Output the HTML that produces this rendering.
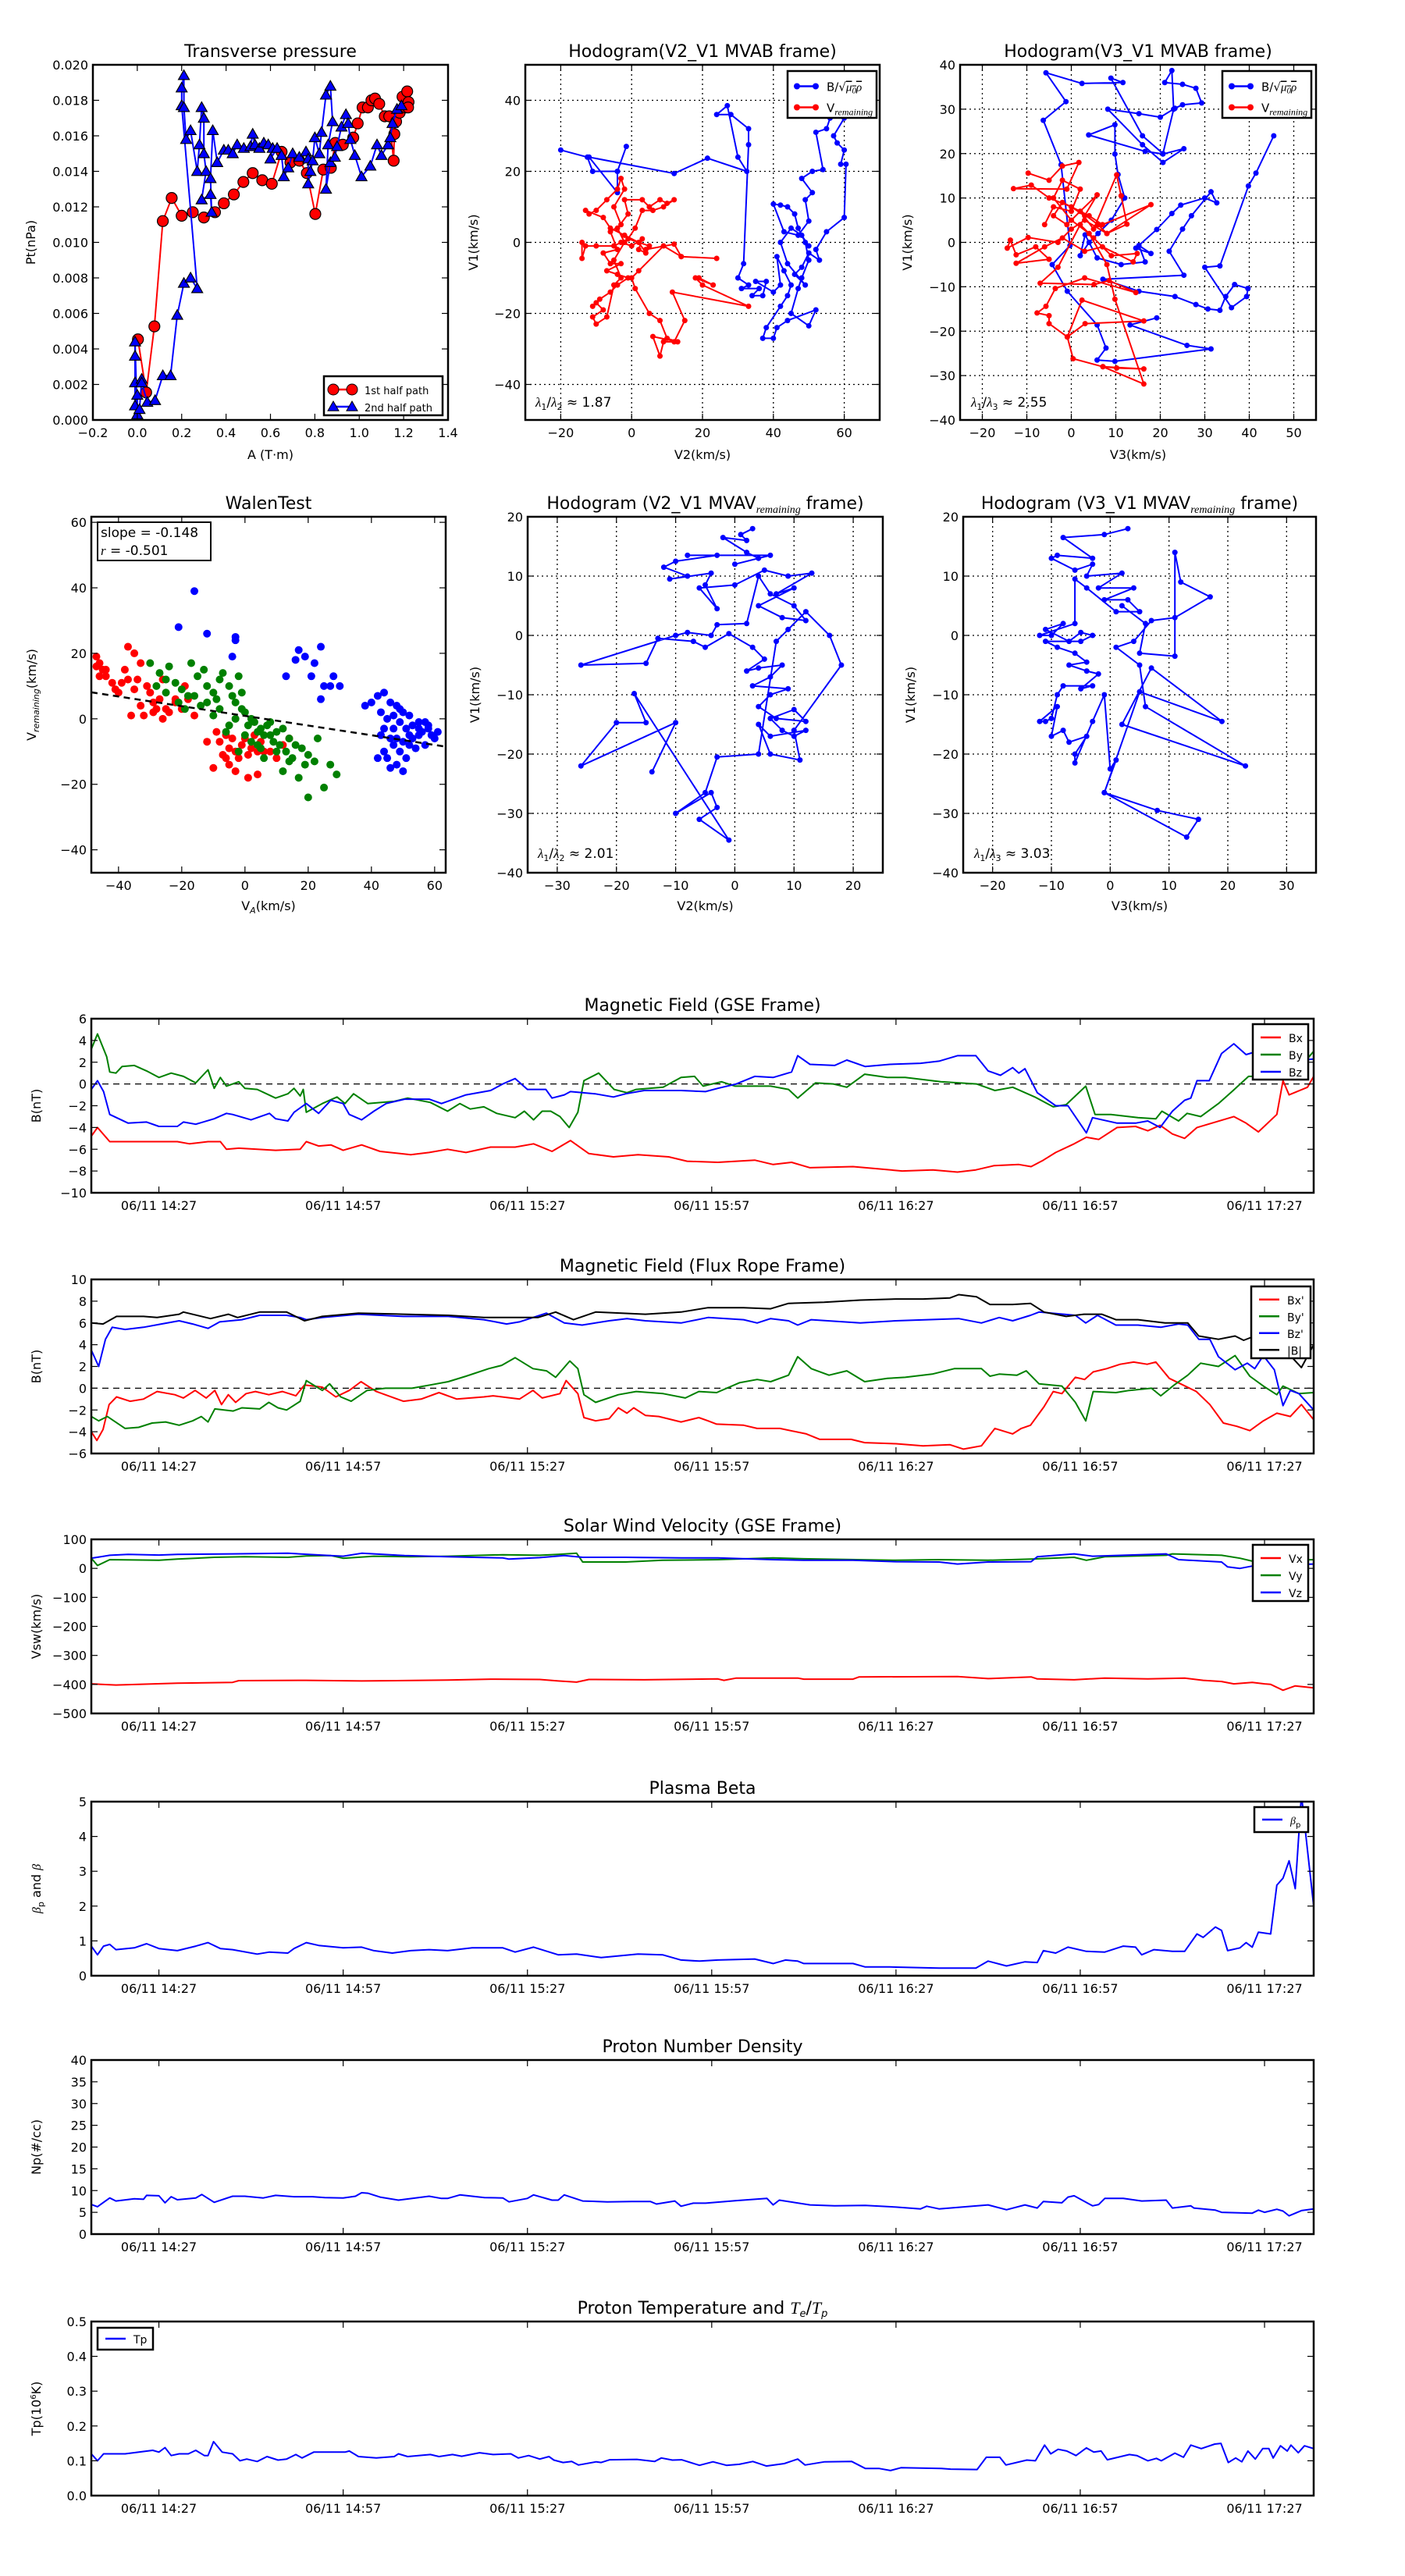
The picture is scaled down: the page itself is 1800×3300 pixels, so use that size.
<!DOCTYPE html>
<html><head><meta charset="utf-8"><style>
html,body{margin:0;padding:0;background:#fff;}
svg{display:block;font-family:"DejaVu Sans","Liberation Sans",sans-serif;}
</style></head><body>
<svg id="fig" xmlns="http://www.w3.org/2000/svg" width="1800" height="3300" viewBox="0 0 1800 3300">
<rect x="0" y="0" width="1800" height="3300" fill="#fff"/>
</svg>
<script>
// ---------- Transverse pressure ----------
const ptRedA=[0.003,0.04,0.077,0.115,0.155,0.2,0.25,0.3,0.35,0.39,0.435,0.478,0.52,0.563,0.606,0.65,0.69,0.73,0.764,0.802,0.838,0.872,0.892,0.926,0.973,0.993,1.015,1.039,1.055,1.071,1.09,1.115,1.135,1.155,1.158,1.166,1.182,1.195,1.209,1.216,1.222,1.22];
const ptRedP=[0.00454,0.00155,0.00527,0.0112,0.0125,0.0115,0.0117,0.0114,0.0117,0.0122,0.0127,0.0134,0.0139,0.0135,0.0133,0.0151,0.0145,0.0146,0.0139,0.0116,0.0141,0.0142,0.0156,0.0155,0.0159,0.0167,0.0176,0.0176,0.018,0.0181,0.0178,0.0171,0.0171,0.0146,0.0161,0.0168,0.0173,0.0182,0.0176,0.0185,0.0179,0.0176];
const ptBlueA=[0.0,-0.01,-0.01,-0.01,-0.01,0.0,0.0,0.01,0.02,0.02,0.045,0.08,0.115,0.15,0.18,0.21,0.24,0.27,0.2,0.2,0.21,0.21,0.22,0.24,0.27,0.28,0.29,0.30,0.30,0.31,0.29,0.33,0.335,0.33,0.34,0.36,0.39,0.41,0.43,0.45,0.48,0.51,0.52,0.53,0.55,0.57,0.59,0.61,0.60,0.63,0.65,0.66,0.68,0.70,0.73,0.76,0.77,0.77,0.78,0.79,0.80,0.82,0.83,0.85,0.87,0.88,0.86,0.85,0.87,0.89,0.90,0.92,0.94,0.95,0.96,0.98,1.01,1.05,1.08,1.10,1.13,1.14,1.15,1.17,1.19];
const ptBlueP=[0.0,0.0044,0.0036,0.0021,0.0008,0.0014,0.0003,0.0006,0.0023,0.0021,0.001,0.0011,0.0025,0.0025,0.0059,0.0077,0.008,0.0074,0.0177,0.0187,0.0194,0.0176,0.0158,0.0163,0.014,0.0155,0.0176,0.017,0.015,0.014,0.0124,0.0127,0.0117,0.0136,0.0163,0.0145,0.0152,0.0152,0.015,0.0155,0.0153,0.0154,0.0161,0.0155,0.0153,0.0156,0.0155,0.0153,0.0147,0.0153,0.0149,0.0137,0.0142,0.015,0.0148,0.0151,0.0147,0.0133,0.014,0.0146,0.0159,0.015,0.0162,0.0183,0.0188,0.0168,0.0155,0.013,0.0145,0.0148,0.0154,0.0165,0.0172,0.0167,0.0158,0.0149,0.0137,0.0143,0.0155,0.0149,0.0155,0.0159,0.0167,0.0175,0.0177];
// ---------- Hodogram V2_V1 MVAB ----------
const h1BlueX=[-20,-12.5,-11,-4,-1.5,-4,-4,-12,12,21.4,32.5,30,27,24,28,33,33,31.6,30,33,31,36,34,37,38,35,40,42,41,43,45,44,42,38,37,40,41,44,52,50,45,47,48,50,49,47,46,44,42,40,43,47,50,49,51,48,51,54,52,55,56,59,60,57,58,60,59,60.5,60,55,52,53,50,48,46,49,44,42,45,48,50];
const h1BlueY=[26,24,20,20,27,20,14,24,19.4,23.7,20,24,38.5,36,36,32,27.5,-6,-10,-12,-13,-13,-15,-15,-11,-11,-14,-12,-4,-8,-12,-15,-18,-24,-27,-27,-24,-22,-19,-23.5,-20,-13,-10,-5,0,4,8,10,10.5,10.8,3,2,6,12,14,18,20,20.5,31,32,35,37,35,30,28,26,22,22,7,3,-2,-5,-3,-7,-9,-12,-6,0,4,2,-1];
const h1RedX=[-14,-14,-13,-10,-5,-3,0,3,2,4,2,-2,-6,-8,-13,-12,-10,-7,-4,-3,-2,-5,-3,-6,-4,-8,-6,-3,-7,-4,-1,-4,-6,-9,-11,-10,-8,-11,-10,-7,-5,-3,-5,-2,-4,-1,-2,3,5,8,10,12,9,6,3,1,-1,5,4,12,14,24,14,9,2,0,1,5,8,10,13,6,8,9,12,15,11.5,33,20,18,23,19];
const h1RedY=[0,-4.5,-1,-1,-1,0,-1,1,-2,-3,0,2,4,7,9,8,9,12,15,18,15,10,5,3,-2,-3,-6,-6,-8,-9,-10,-12,-14,-16,-18,-17,-19,-21,-23,-21,-12,-10,-5,0,4,8,12,12,10,12,11,12,10,9,9,4,1,-1,-2,-0.5,-4,-4.5,-4,-1,-8,-10,-13,-20,-22,-27,-28,-26.5,-32,-28,-28,-22,-14,-18,-12,-10,-12,-10];
// ---------- Hodogram V3_V1 MVAB ----------
const h2BlueX=[19.2,13.2,26,31.4,9.8,5.8,7.8,5.8,-0.9,-4.3,-0.3,-2.3,-6.3,-1.2,-5.7,2.4,11.6,8.9,16,20.6,23,22.6,21,25,28,29.3,25,23.3,20,15.2,8.2,16,20.6,25.3,20.6,16.6,3.9,9.8,9.8,10.5,12,9,6,4,2,3.1,5.8,11.2,16.6,15.2,17.9,14.5,19.2,22.6,24.6,30,32.7,31.4,27,25,22,25.3,7.1,15.2,23.3,28,30.7,33.4,34.7,36.7,39.7,39.4,36,30,33.4,39.8,41.5,45.5];
const h2BlueY=[-17,-18.6,-23.2,-24,-26.8,-26.5,-23.8,-18.6,-11,-5,-0.7,17.5,27.5,31.7,38.2,35.8,36,37,24,20,30,38.7,36,35.6,34.7,31.4,31,30.2,28.2,29,30,22,18,21.1,19.9,20.5,24.2,26.5,19.9,15.3,10,5,2,0,-3,1.7,-3.5,-5,-4.4,-0.7,-2.5,-1.3,2.9,6.5,8.4,10,8.9,11.4,6,3,-2,-7.4,-8.3,-11,-12.2,-14,-15,-15.3,-12.2,-9.5,-10.4,-12.2,-14.7,-5.6,-5.3,12.7,15.6,24];
const h2RedX=[-9.7,-5,-2,1.7,-1,-13,-9,-5,0,3,5.8,2,6,8,17.9,7,4,-2,-4,-1,2,5,10.2,11.2,12.5,8,3,0,-3,-9.7,-14.4,-13.7,-12.4,-8,-5,-12.4,-6,-2,3,7,13.9,14.8,9,5,2,-3,-7,5.1,8.5,14.5,3,-3.6,-5.7,-7.7,-5,-5,-0.9,3.1,16.3,2.4,-0.9,0.4,7.1,16.3,10.2,7.1,16.3,9.8,8,4,0,-4,-2,2,0,-4,-6];
const h2RedY=[15.6,14,17.2,18,12,12.1,12.9,10,8,6,10.7,7,4,2,8.5,4,6,9,6,4,7,3,15.2,10.5,4.1,2,5,3,0,1.1,-1.3,0.5,-2.8,-1,-3.8,-4.7,-1,1,-2,-1,-4.4,-2.5,-3,1,4,-5.6,-9.2,-9.5,-8.6,-11.3,-8,-10.4,-14.4,-15.9,-16.5,-18.3,-21.3,-18.3,-17.7,-13,-21.3,-26.2,-28,-28.5,-28.3,-28,-31.9,-12.8,-5,2,5,10,14,12,7,8,4];
// ---------- Walen test ----------
const wRedX=[-47,-46,-45,-44,-42,-40,-38,-37,-35,-33,-34,-31,-30,-29,-28,-27,-26,-25,-24,-22,-20,-19,-18,-16,-33,-36,-32,-29,-26,-22,-47,-46,-44,-41,-39,-37,-35,-8,-6,-5,-4,-3,-2,-1,0,1,2,4,5,6,3,-7,-10,-6,-5,-3,1,4,8,10,12,14,-12,-9];
const wRedY=[19,17,15,13,11,8,15,22,20,17,12,10,8,5,3,6,12,3,2,5,3,10,6,1,4,1,1,2,0,6,16,13,15,9,11,12,9,-7,-5,-9,-6,-10,-12,-8,-6,-11,-9,-10,-7,-10,-5,-11,-15,-12,-14,-16,-18,-17,-10,-12,-8,-6,-7,-4];
const wGreenX=[-30,-27,-25,-24,-22,-20,-18,-17,-15,-13,-12,-10,-8,-7,-5,-4,-3,-2,-1,0,1,2,3,4,5,6,7,8,9,10,11,12,13,14,15,16,18,19,20,22,23,25,27,29,20,17,12,6,4,-2,-5,-8,-10,-12,-14,-16,-19,-21,-25,-28,-6,-3,0,2,5,8,10,14,-1,-9];
const wGreenY=[17,14,12,16,11,9,7,17,13,15,10,8,12,14,10,7,5,13,3,2,-2,0,-1,-4,-3,-5,-2,-1,-7,-4,-8,-3,-10,-6,-12,-8,-9,-14,-11,-13,-6,-21,-14,-17,-24,-18,-16,-12,-8,-10,-2,3,1,5,4,7,3,5,8,10,-4,0,-5,-7,-9,-5,-10,-13,8,6];
const wBlueX=[-16,-21,-12,-3,-3,-4,17,16,19,22,24,21,25,13,27,30,28,24,38,40,42,44,46,48,50,52,55,58,61,45,47,43,44,45,47,49,51,53,55,57,59,46,50,42,48,43,49,51,53,55,57,60,44,46,48,50,52,54,56,58,47,49,52];
const wBlueY=[39,28,26,25,24,19,21,18,19,17,22,13,10,13,10,10,13,6,4,5,7,8,5,4,2,1,-1,-3,-4,0,-3,-5,-10,-12,-8,-10,-12,-6,-5,-8,-5,-15,-16,-12,-14,2,-1,-3,-2,-3,-1,-6,-3,-6,-6,-7,-8,-9,-4,-2,1,3,-5];
const wSlope=-0.148, wIntercept=0.9;
// ---------- Hodogram V2_V1 MVAV ----------
const h3X=[3,1,2,-2,2,4,0,6,-8,-3,-10,-12,-8,-11,-4,-5,-3,-6,0,5,9,13,7,10,4,8,12,10,6,4,2,-3,-4,-8,-10,-26,-15,-13,-7,-5,-1,3,5,2,4,8,6,3,9,6,4,7,12,10,6,8,10,12,6,4,6,11,10,18,16,12,9,7,4,-3,-5,-10,-4,-3,-6,-1,-17,-15,-20,-26,-10,-14];
const h3Y=[18,17,16,16.5,14,13,12,13.5,13.5,13.5,12.5,11.5,10,9.5,10.5,8.5,4.5,8,8.5,11,10,10.5,7,8,5,3,2.5,5,7,10,2,1.8,0,0.5,0,-5,-4.7,-0.5,-1,-2,0.3,-2,-4,-6,-5.5,-5,-7,-8.5,-9,-10,-12,-14,-14.5,-12.5,-14,-16,-17,-16,-17,-15,-20,-21,-16,-5,0,4,1,-1,-20,-20.5,-26.5,-30,-26.5,-29,-31,-34.5,-9.8,-14.7,-14.7,-22,-14.7,-23];
// ---------- Hodogram V3_V1 MVAV ----------
const h4X=[3,-1,-8,-3,-9,-10,-6,-3,-4,2,-2,4,-1,3,5,1,-4,-6,-6,-12,-10,-8,-11,-7,-5,-3,-5,-11,-9,-6,-4,-7,-4,-2,-5,-3,-8,-9,-10,-11,-12,-9,-10,-8,-7,-4,-6,-6,-3,-1,0,1,-1,8,15,13,-1,5,19,7,2,23,6,5,1,4,7,11,17,12,11,11,5,6,2];
const h4Y=[18,17,-8+24.5,13,13.5,13,11,12,10,10.5,8,8,6,6,4,4,8,9.5,2,0,0,2,1,-1,0.5,0,-1,-1,-2,-3,-4.5,-5,-6,-6.5,-9,-8.5,-8.5,-10,-14,-14.5,-14.5,-12,-17,-16,-18,-17,-20,-21.5,-14.5,-10,-22.5,-21,-26.5,-29.5,-31,-34,-26.5,-9.5,-14.5,-5.5,-15,-22,-12,-5,-2,-1,2.5,3,6.5,9,14,-3.5,-3,2,5];
// ---------- Time series (minutes after 14:16) ----------
const tickTimes=[11,41,71,101,131,161,191];
const tickLabels=['06/11 14:27','06/11 14:57','06/11 15:27','06/11 15:57','06/11 16:27','06/11 16:57','06/11 17:27'];
const bxT=[0,1,3,10,14,16,19,21,22,24,27,30,34,35,37,39,41,44,47,52,55,58,61,65,69,72,75,78,81,85,89,94,97,102,108,111,114,117,124,128,132,137,141,144,147,151,153,155,157,160,162,164,167,170,172,174,176,178,180,183,186,188,190,193,194,195,198,199];
const bxV=[-4.8,-4.0,-5.3,-5.3,-5.3,-5.5,-5.3,-5.3,-6.0,-5.9,-6.0,-6.1,-6.0,-5.3,-5.7,-5.6,-6.1,-5.6,-6.2,-6.5,-6.3,-6.0,-6.3,-5.8,-5.8,-5.5,-6.2,-5.2,-6.4,-6.7,-6.5,-6.7,-7.1,-7.2,-7.0,-7.4,-7.2,-7.7,-7.6,-7.8,-8.0,-7.9,-8.1,-7.9,-7.5,-7.4,-7.6,-7.0,-6.3,-5.5,-4.9,-5.1,-4.0,-3.9,-4.3,-3.8,-4.6,-5.0,-4.0,-3.5,-3.0,-3.6,-4.4,-2.8,0.3,-1.0,-0.3,0.7];
const byT=[0,1,2.5,3,4,5,7,9,11,13,15,17,19,20,21,22,24,25,27,30,32,33,34,34.5,35,37.6,40,41.3,42.7,45,49.3,51.5,55.2,58,60,61.7,63.9,66,69,70.5,72,73.4,74.8,76.3,77.8,79.2,80.2,82.6,85.1,87.2,88.7,93.1,96,98.2,99.6,102.6,104.8,110.6,113.5,115,117.9,120.8,123,125.9,129.6,132.5,138.3,144.1,147.1,150,153.6,156.6,158.7,161.9,163.4,166,170.4,173.3,174.3,177,178.4,180.6,183.5,185.7,188.4,190.8,195.2,199];
const byV=[3.2,4.6,2.5,1.1,1.0,1.6,1.7,1.2,0.6,1.0,0.7,0.1,1.3,-0.4,0.6,-0.2,0.2,-0.4,-0.5,-1.3,-0.9,-0.4,-1.1,-0.5,-2.6,-1.8,-1.2,-1.8,-0.9,-1.8,-1.6,-1.3,-1.7,-2.5,-1.8,-2.3,-2.1,-2.7,-3.1,-2.5,-3.3,-2.5,-2.5,-3.0,-4.0,-2.6,0.3,1.0,-0.5,-0.8,-0.5,-0.3,0.6,0.7,-0.2,0.2,-0.2,-0.2,-0.5,-1.3,0.1,0.0,-0.3,0.9,0.6,0.6,0.2,0.0,-0.6,-0.3,-1.2,-2.1,-1.9,-0.2,-2.8,-2.8,-3.1,-3.2,-2.5,-3.4,-2.7,-3.0,-1.8,-0.7,0.7,0.7,0.5,3.0];
const bzT=[0,1,2,3,6,9,11,14,15,17,20,22,23,26,29,30,32,33,35,37,39,41,42,44,46,48,51,55,57,61,65,67,69,71,74,75,77,78,82,85,87,90,96,100,102,105,108,111,114,115,117,121,123,126,130,135,138,141,144,146,148,150,151,152,154,157,159,162,163,167,170,172,174,176,178,179,180,182,184,186,188,191,194,199];
const bzV=[-0.5,0.3,-0.7,-2.8,-3.6,-3.5,-3.9,-3.9,-3.5,-3.7,-3.2,-2.7,-2.8,-3.3,-2.7,-3.2,-3.4,-2.6,-1.8,-2.7,-1.5,-1.8,-2.8,-3.3,-2.5,-1.8,-1.4,-1.4,-1.8,-1.0,-0.6,0.0,0.5,-0.5,-0.5,-1.3,-1.0,-0.7,-0.9,-1.2,-0.9,-0.6,-0.6,-0.7,-0.4,0.0,0.7,0.6,1.1,2.6,1.8,1.7,2.2,1.6,1.8,1.9,2.1,2.6,2.6,1.2,0.8,1.5,1.0,1.4,-0.8,-2.0,-2.0,-4.5,-3.1,-3.6,-3.6,-3.4,-4.0,-2.5,-1.5,-1.3,0.3,0.3,2.8,3.7,2.7,3.2,2.0,2.3];
const frxT=[0,0.9,1.9,2.9,4.1,6.3,8.5,10.7,13.6,15,16.9,18.7,20.1,21.2,22.3,23.5,25.2,26.7,28.9,31.1,33.3,34.7,37.6,39.8,42,43.9,46.4,50.8,53.7,56.6,59.5,63.9,65.4,69.7,71.9,73.4,76.3,77.3,79.2,80.2,82.1,84.3,85.8,87.2,88.3,90.2,92.4,96,98.9,100.4,101.8,106.2,108.4,112.1,116.4,118.6,123.7,125.9,131,135.4,139.8,142,144.9,147.1,150,151.4,152.9,155.1,156.6,158,160.2,161.7,163.1,165.3,167.5,169.7,171.9,173.3,175.5,177.7,179.9,182.1,184.3,186.5,188.6,190.8,193,195.2,197,199];
const frxV=[-4.0,-4.8,-3.8,-1.5,-0.8,-1.2,-1.0,-0.3,-0.6,-0.9,-0.2,-0.9,-0.2,-1.5,-0.6,-1.3,-0.5,-0.3,-0.6,-0.3,-0.7,0.3,0.1,-0.8,-0.2,0.6,-0.3,-1.2,-1.0,-0.4,-1.0,-0.8,-0.7,-1.0,-0.2,-0.9,-0.5,0.7,-0.5,-2.7,-3.0,-2.8,-1.8,-2.3,-1.8,-2.5,-2.6,-3.1,-2.7,-3.0,-3.3,-3.4,-3.7,-3.7,-4.2,-4.7,-4.7,-5.0,-5.1,-5.3,-5.2,-5.6,-5.3,-3.7,-4.2,-3.7,-3.4,-1.7,-0.3,-0.5,1.0,0.8,1.5,1.8,2.2,2.4,2.2,2.4,0.9,0.3,-0.3,-1.5,-3.2,-3.5,-3.9,-3.0,-2.3,-2.6,-1.5,-2.9];
const fryT=[0,1.2,2.6,5.5,7.7,9.9,12.1,14.3,16.5,17.9,19,20.1,23.1,24.5,27.4,28.9,30.4,31.8,34,35,37.6,38.8,40.6,42.3,44.9,47.9,52.2,55.2,58.1,61,64.7,66.8,69,71.9,74.1,75.6,77.9,79.2,80.2,82.1,85.8,88.7,93.1,96.7,98.9,101.8,105.5,108.4,110.6,113.5,115,117.2,120.1,123,125.9,129.6,132.5,136.9,140.5,144.9,146.3,147.8,150.7,152.2,154.3,158,160.2,161.9,163.1,166.8,169,172.6,174.1,176.3,178.5,180.6,183.5,186.2,188.6,190.8,193,194,196.6,199];
const fryV=[-2.6,-3.0,-2.6,-3.7,-3.6,-3.2,-3.1,-3.4,-3.0,-2.6,-3.1,-1.9,-2.1,-1.8,-1.9,-1.3,-1.8,-2.0,-1.2,0.7,-0.2,0.4,-0.8,-1.2,-0.2,0.0,0.0,0.3,0.6,1.1,1.8,2.1,2.8,1.8,1.6,1.0,2.5,1.8,-0.6,-1.3,-0.6,-0.3,-0.5,-0.9,-0.3,-0.4,0.5,0.8,0.6,1.2,2.9,1.8,1.2,1.6,0.6,0.9,1.0,1.3,1.8,1.8,1.1,1.3,1.2,1.6,0.4,0.2,-1.3,-3.0,-0.3,-0.4,-0.2,0.0,-0.7,0.3,1.2,2.3,2.0,3.0,1.1,0.2,-0.6,0.2,-0.5,-0.4];
const frzT=[0,1.2,2.3,3.4,5.5,8.5,11.4,14.3,16.5,19,20.9,24.5,27.4,31.8,34,35,37.6,43.5,50.8,58.1,63.9,67.6,69.7,74.1,77,79.9,84.3,87.2,90.2,96,100.4,106.2,108.4,110.6,113.5,115,117.2,125.2,131,141.2,144.9,147.8,150,152.9,154.3,160.2,161.9,163.8,166.8,170.4,174.1,177,178.5,180.3,182.1,183.5,186.2,188.2,189.4,190.8,192.6,194,195.2,196.6,199];
const frzV=[3.5,2.0,4.5,5.6,5.4,5.6,5.9,6.2,5.9,5.5,6.1,6.3,6.7,6.7,6.5,6.3,6.5,6.8,6.6,6.6,6.3,5.9,6.1,6.9,6.0,5.8,6.2,6.4,6.2,6.0,6.5,6.3,6.0,6.4,6.2,5.8,6.3,6.0,6.2,6.4,6.0,6.5,6.2,6.7,7.0,6.7,6.0,6.7,5.8,5.8,5.6,5.9,5.8,4.5,4.5,2.9,1.7,2.3,1.8,3.0,1.7,-1.6,-0.2,-0.5,-2.0];
const frbT=[0,1.9,4.1,8.5,10.7,14.3,15,19.4,22.3,23.8,27.4,31.8,34.7,37.6,43.5,50.8,58.1,63.9,72.7,75.6,78.5,82.1,90.2,96,100.4,106.2,110.6,113.5,119.3,125.2,131,135.4,139.8,141.2,144.1,146.3,150,152.9,155.1,158.7,161.6,164.5,166.8,170.4,174.8,178.5,180.3,183.5,186.2,187.6,189.4,193.8,195.2,197,199];
const frbV=[6.0,5.9,6.6,6.6,6.5,6.8,7.0,6.4,6.8,6.5,7.0,7.0,6.2,6.6,6.9,6.8,6.7,6.5,6.5,7.0,6.3,7.0,6.8,7.0,7.4,7.4,7.3,7.8,7.9,8.1,8.2,8.2,8.3,8.6,8.4,7.7,7.7,7.8,7.0,6.6,6.8,6.8,6.3,6.3,6.0,6.0,4.8,4.5,4.8,4.4,4.8,3.2,3.0,1.9,4.0];
const vxT=[0,4,14,23,24,35,44,58,65,73,76,79,81,90,102,103,105,115,116,124,125,141,146,153,154,160,165,172,178,181,184,186,189,191,192,194,196,199];
const vxV=[-398,-402,-396,-393,-387,-386,-388,-385,-382,-383,-388,-392,-383,-384,-381,-386,-378,-378,-382,-382,-374,-373,-380,-374,-381,-384,-378,-381,-378,-386,-390,-398,-393,-398,-400,-420,-405,-412];
const vyT=[0,1,3,11,14,20,25,32,35,39,41,46,52,58,67,73,76,79,80,87,93,102,111,116,131,138,146,153,160,162,165,175,176,184,187,189,199];
const vyV=[35,10,30,28,32,38,40,38,43,44,35,42,40,42,47,45,48,52,22,22,28,30,36,33,28,30,28,32,38,28,40,45,50,45,35,25,30];
const vzT=[0,3,6,11,14,23,32,38,41,44,51,58,67,68,73,77,80,87,96,102,111,116,124,131,138,141,146,153,154,160,163,175,177,184,185,187,189,191,199];
const vzV=[35,45,48,46,48,50,52,45,42,52,44,40,36,32,37,44,38,38,36,36,30,28,28,23,22,15,22,23,40,50,42,50,30,22,5,0,8,10,15];
const betaT=[0,1,2,3,4,7,9,11,14,17,19,21,23,27,29,32,33,35,37,41,44,46,49,52,55,58,62,67,69,72,76,79,83,89,93,96,99,102,108,111,113,115,116,124,126,130,138,144,146,149,152,154,155,157,159,162,165,168,170,171,173,176,178,180,181,183,184,185,187,188,189,190,192,193,194,195,196,197,198,199];
const betaV=[0.85,0.6,0.85,0.9,0.75,0.8,0.92,0.78,0.72,0.85,0.95,0.78,0.75,0.62,0.68,0.65,0.78,0.95,0.87,0.8,0.82,0.72,0.65,0.72,0.75,0.72,0.8,0.8,0.68,0.82,0.6,0.62,0.52,0.62,0.6,0.45,0.42,0.45,0.48,0.35,0.45,0.42,0.35,0.35,0.25,0.25,0.22,0.22,0.42,0.28,0.4,0.38,0.72,0.65,0.82,0.7,0.68,0.85,0.82,0.6,0.75,0.7,0.7,1.2,1.1,1.4,1.3,0.72,0.8,0.95,0.82,1.25,1.2,2.6,2.8,3.3,2.5,5.2,3.6,2.0];
const npT=[0,1,3,4,7,8.5,9,11,12,13,14,17,18,20,23,25,28,30,33,36,38,41,43,44,45,47,50,55,57,58,60,64,67,68,71,72,75,76,77,80,84,88,91,92,95,96,98,100,105,110,111,112,117,121,126,131,135,136,138,146,149,152,154,155,158,159,160,163,164,165,168,171,175,176,179,179.5,183,184,189,190,191,193,194,195,197,199];
const npV=[6.8,6.3,8.3,7.6,8.1,8.0,8.9,8.8,7.2,8.6,7.9,8.3,9.1,7.3,8.7,8.7,8.3,8.9,8.6,8.6,8.4,8.3,8.7,9.5,9.4,8.5,7.8,8.7,8.2,8.2,9.0,8.4,8.3,7.4,8.2,9.0,7.8,7.8,9.0,7.6,7.4,7.5,7.5,6.9,7.6,6.4,7.1,7.1,7.7,8.2,6.7,7.8,6.7,6.5,6.6,6.2,5.8,6.4,5.8,6.7,5.6,6.7,6.0,7.5,7.2,8.5,8.8,6.5,6.8,8.2,8.2,7.6,7.8,6.0,6.5,6.0,5.5,5.0,4.8,5.5,5.0,5.7,5.3,4.2,5.4,5.8];
const tpT=[0,1,2,5.5,10,11,12,13,14.3,15.8,17,18.4,19,19.9,21.3,23,24.2,25.3,27,28.6,30.4,31.8,33.3,34.3,36.2,41.3,42,43.5,46.4,49.3,50,51.5,55.2,56.6,58.8,60.3,63.2,65.4,68.3,69.5,71.2,73,74.5,75.3,76.8,78.2,79.3,82.2,83,84.4,88.8,91.7,92.8,94.6,96.1,99,101.2,103.4,105.5,107.7,109.9,112.8,115,116.2,119.4,123.8,126,128.2,130.1,131.8,138.4,139.9,144.2,145.7,147.9,148.9,152.3,153.7,155.2,156.2,157.4,158.8,160.3,162,163.2,164.4,165.4,169,170.2,172,173.4,174.2,176.4,177.8,179,180.7,182.9,183.9,185.1,186.3,187.3,188.3,189.5,190.7,191.7,192.4,193.6,194.7,195.3,196.5,197.5,199];
const tpV=[.12,.10,.12,.12,.13,.125,.138,.115,.12,.12,.13,.115,.115,.155,.125,.12,.10,.105,.098,.112,.102,.105,.118,.108,.125,.125,.128,.112,.108,.112,.12,.112,.118,.112,.118,.113,.123,.118,.12,.108,.115,.105,.112,.102,.095,.098,.088,.097,.095,.103,.104,.098,.108,.102,.103,.087,.097,.087,.09,.098,.085,.092,.105,.088,.097,.098,.078,.078,.072,.08,.078,.076,.075,.11,.11,.088,.102,.1,.145,.12,.133,.128,.115,.137,.125,.128,.103,.118,.115,.1,.107,.1,.122,.11,.145,.135,.148,.15,.095,.108,.097,.128,.105,.135,.135,.108,.143,.128,.145,.123,.143,.135];

// ---------- drawing ----------
const NS='http://www.w3.org/2000/svg';
const svg=document.getElementById('fig');
let clipN=0;
function mk(tag,parent){const e=document.createElementNS(NS,tag);parent.appendChild(e);return e;}
function set(e,o){for(const k in o)e.setAttribute(k,o[k]);return e;}
function fmtMinus(s){return String(s).replace('-','\u2212');}
function makePanel(name,x0,y0,w,h,xmin,xmax,ymin,ymax){
  const g=mk('g',svg);
  
  
  const id='clip'+(clipN++);
  const cp=set(mk('clipPath',g),{id:id});
  set(mk('rect',cp),{x:x0,y:y0,width:w,height:h});
  const P={g:g,x0:x0,y0:y0,w:w,h:h,
    sx:v=>x0+(v-xmin)/(xmax-xmin)*w,
    sy:v=>y0+h-(v-ymin)/(ymax-ymin)*h};
  P.plot=set(mk('g',g),{'clip-path':'url(#'+id+')'});
  
  
  return P;
}
function gridLines(P,xt,yt){
  for(const v of xt){const l=set(mk('line',P.plot),{x1:P.sx(v),x2:P.sx(v),y1:P.y0,y2:P.y0+P.h,stroke:'#000','stroke-width':1.3,'stroke-dasharray':'2,4'});
    
    }
  for(const v of yt){const l=set(mk('line',P.plot),{x1:P.x0,x2:P.x0+P.w,y1:P.sy(v),y2:P.sy(v),stroke:'#000','stroke-width':1.3,'stroke-dasharray':'2,4'});
    
    }
}
function frame(P,xt,xl,yt,yl,fs){
  for(let i=0;i<xt.length;i++){const X=P.sx(xt[i]);
    set(mk('line',P.g),{x1:X,x2:X,y1:P.y0+P.h,y2:P.y0+P.h-8,stroke:'#000','stroke-width':1.2});
    set(mk('line',P.g),{x1:X,x2:X,y1:P.y0,y2:P.y0+8,stroke:'#000','stroke-width':1.2});
    const t=set(mk('text',P.g),{x:X,y:P.y0+P.h+22,'text-anchor':'middle','font-size':fs});
    
    
    t.textContent=xl[i];}
  for(let i=0;i<yt.length;i++){const Y=P.sy(yt[i]);
    set(mk('line',P.g),{x1:P.x0,x2:P.x0+8,y1:Y,y2:Y,stroke:'#000','stroke-width':1.2});
    set(mk('line',P.g),{x1:P.x0+P.w,x2:P.x0+P.w-8,y1:Y,y2:Y,stroke:'#000','stroke-width':1.2});
    const t=set(mk('text',P.g),{x:P.x0-6,y:Y+6,'text-anchor':'end','font-size':fs});
    
    
    t.textContent=yl[i];}
  const r=set(mk('rect',P.g),{x:P.x0,y:P.y0,width:P.w,height:P.h,fill:'none',stroke:'#000','stroke-width':2.5});
  
  
}
function label(P,title,xlab,ylab,ylx,xly){
  const t=set(mk('text',P.g),{x:P.x0+P.w/2,y:P.y0-10,'text-anchor':'middle','font-size':22});
  
  
  t.innerHTML=title;
  if(xlab){const a=set(mk('text',P.g),{x:P.x0+P.w/2,y:xly||P.y0+P.h+50,'text-anchor':'middle','font-size':16});
    
    
    a.innerHTML=xlab;}
  if(ylab){const b=set(mk('text',P.g),{x:ylx,y:P.y0+P.h/2,'text-anchor':'middle','font-size':16,transform:'rotate(-90 '+ylx+' '+(P.y0+P.h/2)+')'});
    
    
    b.innerHTML=ylab;}
}
function line(P,xs,ys,color,name,wid){
  const n=Math.min(xs.length,ys.length);let d='';
  for(let i=0;i<n;i++)d+=(i?'L':'M')+P.sx(xs[i]).toFixed(1)+','+P.sy(ys[i]).toFixed(1);
  const p=set(mk('path',P.plot),{d:d,fill:'none',stroke:color,'stroke-width':wid||2,'stroke-linejoin':'round'});
  
  
}
function dots(P,xs,ys,color,name,r,edge){
  const n=Math.min(xs.length,ys.length);
  for(let i=0;i<n;i++){const c=set(mk('circle',P.plot),{cx:P.sx(xs[i]),cy:P.sy(ys[i]),r:r,fill:color,stroke:edge||'none','stroke-width':1.2});
    
    }
}
function tris(P,xs,ys,color,name,s){
  const n=Math.min(xs.length,ys.length);
  for(let i=0;i<n;i++){const X=P.sx(xs[i]),Y=P.sy(ys[i]);
    const c=set(mk('polygon',P.plot),{points:X+','+(Y-s)+' '+(X-s)+','+(Y+s*0.75)+' '+(X+s)+','+(Y+s*0.75),fill:color,stroke:'#000','stroke-width':1.2});
    
    }
}
function legend(P,x,y,w,h,items,fs,sp,mk2){
  const g=mk('g',P.g);
  
  
  set(mk('rect',g),{x:x,y:y,width:w,height:h,fill:'#fff',stroke:'#000','stroke-width':2.5});
  items.forEach((it,i)=>{const yy=y+sp/2+6+i*sp;
    const e=mk('g',g);
    
    
    set(mk('line',e),{x1:x+10,x2:x+36,y1:yy,y2:yy,stroke:it.c,'stroke-width':2.5});
    if(it.m==='o'){set(mk('circle',e),{cx:x+12,cy:yy,r:it.r||4,fill:it.c,stroke:it.edge||'none'});set(mk('circle',e),{cx:x+36,cy:yy,r:it.r||4,fill:it.c,stroke:it.edge||'none'});}
    if(it.m==='^'){for(const X of [x+12,x+36]){const s=7;set(mk('polygon',e),{points:X+','+(yy-s)+' '+(X-s)+','+(yy+s*0.75)+' '+(X+s)+','+(yy+s*0.75),fill:it.c,stroke:'#000'});}}
    const t=set(mk('text',e),{x:x+(mk2||46),y:yy+6,'font-size':fs});
    t.innerHTML=it.t;});
}
function txt(x,y,s,fs,name,anchor){const t=set(mk('text',svg),{x:x,y:y,'font-size':fs,'text-anchor':anchor||'start'});
  
  
  t.innerHTML=s;return t;}
const rng=(a,b,s)=>{const r=[];for(let v=a;v<=b+1e-9;v+=s)r.push(+v.toFixed(6));return r;};
const lam=(a,b,v)=>'<tspan font-family="Liberation Serif,serif" font-style="italic">λ</tspan><tspan font-size="11" dy="4">'+a+'</tspan><tspan dy="-4">/</tspan><tspan font-family="Liberation Serif,serif" font-style="italic">λ</tspan><tspan font-size="11" dy="4">'+b+'</tspan><tspan dy="-4"> ≈ '+v+'</tspan>';
const vrem='V<tspan font-family="Liberation Serif,serif" font-style="italic" font-size="12" dy="4">remaining</tspan>';
const bmu='B/√<tspan text-decoration="overline" font-family="Liberation Serif,serif" font-style="italic">μ<tspan font-size="11" dy="3">0</tspan><tspan dy="-3">ρ</tspan></tspan>';

// Panel 1: transverse pressure
{const P=makePanel('transverse-pressure-panel',119,83,455,455,-0.2,1.4,0,0.02);
 line(P,ptRedA,ptRedP,'#ff0000','first-half-path-line',2);dots(P,ptRedA,ptRedP,'#ff0000','first-half-marker',7,'#000');
 line(P,ptBlueA,ptBlueP,'#0000ff','second-half-path-line',2);tris(P,ptBlueA,ptBlueP,'#0000ff','second-half-marker',7);
 const xt=rng(-0.2,1.4,0.2),yt=rng(0,0.02,0.002);
 frame(P,xt,xt.map(v=>fmtMinus(v.toFixed(1))),yt,yt.map(v=>v.toFixed(3)),16);
 label(P,'Transverse pressure','A (T·m)','Pt(nPa)',45,588);
 legend(P,415,482,152,50,[{c:'#ff0000',m:'o',r:7,edge:'#000',t:'1st half path'},{c:'#0000ff',m:'^',t:'2nd half path'}],13,22,52);}
// Panel 2
{const P=makePanel('hodogram-v2-v1-mvab-panel',673,83,454,455,-30,70,-50,50);
 gridLines(P,rng(-20,60,20),rng(-40,40,20));
 line(P,h1BlueX,h1BlueY,'#0000ff','b-alfven-line',2);dots(P,h1BlueX,h1BlueY,'#0000ff','b-alfven-point',3.5);
 line(P,h1RedX,h1RedY,'#ff0000','v-remaining-line',2);dots(P,h1RedX,h1RedY,'#ff0000','v-remaining-point',3.5);
 const xt=rng(-20,60,20),yt=rng(-40,40,20);
 frame(P,xt,xt.map(v=>fmtMinus(v)),yt,yt.map(v=>fmtMinus(v)),16);
 label(P,'Hodogram(V2_V1 MVAB frame)','V2(km/s)','V1(km/s)',612,588);
 legend(P,1009,91,114,60,[{c:'#0000ff',m:'o',t:bmu},{c:'#ff0000',m:'o',t:vrem}],15,27,50);
 txt(686,521,lam(1,2,'1.87'),17,'eigenvalue-ratio-text');}
// Panel 3
{const P=makePanel('hodogram-v3-v1-mvab-panel',1230,83,456,455,-25,55,-40,40);
 gridLines(P,rng(-20,50,10),rng(-30,30,10));
 line(P,h2BlueX,h2BlueY,'#0000ff','b-alfven-line',2);dots(P,h2BlueX,h2BlueY,'#0000ff','b-alfven-point',3.5);
 line(P,h2RedX,h2RedY,'#ff0000','v-remaining-line',2);dots(P,h2RedX,h2RedY,'#ff0000','v-remaining-point',3.5);
 const xt=rng(-20,50,10),yt=rng(-40,40,10);
 frame(P,xt,xt.map(v=>fmtMinus(v)),yt,yt.map(v=>fmtMinus(v)),16);
 label(P,'Hodogram(V3_V1 MVAB frame)','V3(km/s)','V1(km/s)',1168,588);
 legend(P,1566,91,114,60,[{c:'#0000ff',m:'o',t:bmu},{c:'#ff0000',m:'o',t:vrem}],15,27,50);
 txt(1244,521,lam(1,3,'2.55'),17,'eigenvalue-ratio-text');}
// Walen
{const P=makePanel('walen-test-panel',117,662,454,456,-48.6,63.5,-47,61.7);
 dots(P,wRedX,wRedY,'#ff0000','walen-red-point',5);
 dots(P,wGreenX,wGreenY,'#008000','walen-green-point',5);
 dots(P,wBlueX,wBlueY,'#0000ff','walen-blue-point',5);
 const fx=[-48.6,63.5];
 const fl=set(mk('line',P.plot),{x1:P.sx(fx[0]),y1:P.sy(wIntercept+wSlope*fx[0]),x2:P.sx(fx[1]),y2:P.sy(wIntercept+wSlope*fx[1]),stroke:'#000','stroke-width':2.5,'stroke-dasharray':'8,6'});
 
 
 const xt=rng(-40,60,20),yt=rng(-40,60,20);
 frame(P,xt,xt.map(v=>fmtMinus(v)),yt,yt.map(v=>fmtMinus(v)),16);
 label(P,'WalenTest','V<tspan font-size="11" dy="4" font-style="italic">A</tspan><tspan dy="-4">(km/s)</tspan>','V<tspan font-size="11" dy="4" font-style="italic">remaining</tspan><tspan dy="-4">(km/s)</tspan>',46,1166);
 const bx=set(mk('rect',P.g),{x:125,y:669,width:145,height:49,fill:'#fff',stroke:'#000','stroke-width':2});
 
 
 txt(129,688,'slope = -0.148',17,'slope-text');
 txt(129,711,'<tspan font-family="Liberation Serif,serif" font-style="italic">r</tspan> = -0.501',17,'correlation-text');}
// Row2 P2
{const P=makePanel('hodogram-v2-v1-mvav-panel',676,662,455,456,-35,25,-40,20);
 gridLines(P,rng(-30,20,10),rng(-30,10,10));
 line(P,h3X,h3Y,'#0000ff','hodogram-line',2);dots(P,h3X,h3Y,'#0000ff','hodogram-point',3.5);
 const xt=rng(-30,20,10),yt=rng(-40,20,10);
 frame(P,xt,xt.map(v=>fmtMinus(v)),yt,yt.map(v=>fmtMinus(v)),16);
 label(P,'Hodogram (V2_V1 MVAV<tspan font-family="Liberation Serif,serif" font-style="italic" font-size="14" dy="5">remaining</tspan><tspan dy="-5"> frame)</tspan>','V2(km/s)','V1(km/s)',614,1166);
 txt(689,1099,lam(1,2,'2.01'),17,'eigenvalue-ratio-text');}
// Row2 P3
{const P=makePanel('hodogram-v3-v1-mvav-panel',1234,662,452,456,-25,35,-40,20);
 gridLines(P,rng(-20,30,10),rng(-30,10,10));
 line(P,h4X,h4Y,'#0000ff','hodogram-line',2);dots(P,h4X,h4Y,'#0000ff','hodogram-point',3.5);
 const xt=rng(-20,30,10),yt=rng(-40,20,10);
 frame(P,xt,xt.map(v=>fmtMinus(v)),yt,yt.map(v=>fmtMinus(v)),16);
 label(P,'Hodogram (V3_V1 MVAV<tspan font-family="Liberation Serif,serif" font-style="italic" font-size="14" dy="5">remaining</tspan><tspan dy="-5"> frame)</tspan>','V3(km/s)','V1(km/s)',1172,1166);
 txt(1248,1099,lam(1,3,'3.03'),17,'eigenvalue-ratio-text');}

// Time series
function tsPanel(name,top,ymin,ymax,ystep,dec,title,ylab){
  const P=makePanel(name,117,top,1566,223,0,199,ymin,ymax);
  const yt=rng(ymin,ymax,ystep);
  frame(P,tickTimes,tickLabels,yt,yt.map(v=>fmtMinus(v.toFixed(dec))),16);
  label(P,title,null,ylab,52);
  return P;}
function zero(P){const l=set(mk('line',P.plot),{x1:P.x0,x2:P.x0+P.w,y1:P.sy(0),y2:P.sy(0),stroke:'#000','stroke-width':1.3,'stroke-dasharray':'8,6'});
  
  }
{const P=tsPanel('magnetic-field-gse-panel',1305,-10,6,2,0,'Magnetic Field (GSE Frame)','B(nT)');zero(P);
 line(P,bxT,bxV,'#ff0000','bx-line');line(P,byT,byV,'#008000','by-line');line(P,bzT,bzV,'#0000ff','bz-line');
 legend(P,1605,1312,71,71,[{c:'#ff0000',t:'Bx'},{c:'#008000',t:'By'},{c:'#0000ff',t:'Bz'}],14,22,46);}
{const P=tsPanel('magnetic-field-flux-rope-panel',1639,-6,10,2,0,'Magnetic Field (Flux Rope Frame)','B(nT)');zero(P);
 line(P,frxT,frxV,'#ff0000','bx-prime-line');line(P,fryT,fryV,'#008000','by-prime-line');line(P,frzT,frzV,'#0000ff','bz-prime-line');line(P,frbT,frbV,'#000000','b-magnitude-line');
 legend(P,1603,1648,76,92,[{c:'#ff0000',t:"Bx'"},{c:'#008000',t:"By'"},{c:'#0000ff',t:"Bz'"},{c:'#000',t:'|B|'}],14,21.5,46);}
{const P=tsPanel('solar-wind-velocity-panel',1972,-500,100,100,0,'Solar Wind Velocity (GSE Frame)','Vsw(km/s)');
 line(P,vxT,vxV,'#ff0000','vx-line');line(P,vyT,vyV,'#008000','vy-line');line(P,vzT,vzV,'#0000ff','vz-line');
 legend(P,1605,1979,71,72,[{c:'#ff0000',t:'Vx'},{c:'#008000',t:'Vy'},{c:'#0000ff',t:'Vz'}],14,22,46);}
{const P=tsPanel('plasma-beta-panel',2308,0,5,1,0,'Plasma Beta','<tspan font-family="Liberation Serif,serif" font-style="italic">β</tspan><tspan font-size="11" dy="4">p</tspan><tspan dy="-4"> and </tspan><tspan font-family="Liberation Serif,serif" font-style="italic">β</tspan>');
 line(P,betaT,betaV,'#0000ff','beta-p-line');
 legend(P,1607,2315,69,32,[{c:'#0000ff',t:'<tspan font-family="Liberation Serif,serif" font-style="italic">β</tspan><tspan font-size="10" dy="4">p</tspan>'}],14,20,46);}
{const P=tsPanel('proton-density-panel',2639,0,40,5,0,'Proton Number Density','Np(#/cc)');
 line(P,npT,npV,'#0000ff','density-line');}
{const P=tsPanel('proton-temperature-panel',2974,0,0.5,0.1,1,'Proton Temperature and <tspan font-family="Liberation Serif,serif" font-style="italic">T</tspan><tspan font-size="13" dy="4" font-style="italic">e</tspan><tspan dy="-4">/</tspan><tspan font-family="Liberation Serif,serif" font-style="italic">T</tspan><tspan font-size="13" dy="4" font-style="italic">p</tspan>','Tp(10<tspan font-size="10" dy="-6">6</tspan><tspan dy="6">K)</tspan>');
 line(P,tpT,tpV,'#0000ff','temperature-line');
 legend(P,125,2982,71,28,[{c:'#0000ff',t:'Tp'}],14,16,46);}
</script>
</body></html>
